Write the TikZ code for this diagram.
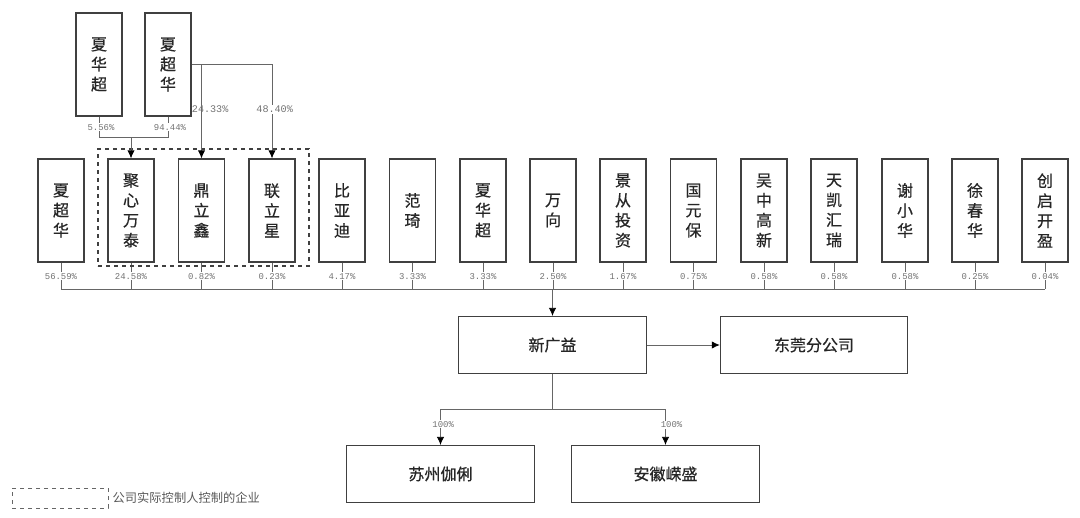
\documentclass[tikz,border=0pt]{standalone}
\usepackage{fontspec}
\setmainfont{Noto Sans CJK SC}
\newfontfamily\boxfont[FakeBold=0.6]{Noto Sans CJK SC}
\newfontfamily\pctfont{Liberation Mono}
\usetikzlibrary{arrows.meta,positioning}
\definecolor{boxline}{gray}{0.25}
\definecolor{linkline}{gray}{0.4}
\definecolor{pcttext}{gray}{0.45}
\tikzset{
    tallbox/.style={draw=boxline, line width=0.95pt, minimum width=34.5pt, minimum height=77.25pt, inner sep=0pt, align=center, font=\fontsize{12}{15}\selectfont\boxfont, text=black!85},
    widebox/.style={draw=boxline, line width=0.85pt, minimum width=140.5pt, minimum height=42.75pt, inner sep=0pt, font=\fontsize{12}{15}\selectfont\boxfont, text=black!85},
    link/.style={draw=linkline, line width=0.6pt},
    arrowlink/.style={link, -{Latex[length=6pt,width=5.5pt,color=black]}},
    pct/.style={font=\fontsize{6.7}{8}\selectfont\pctfont, text=pcttext, fill=white, inner sep=0.8pt},
    bigpct/.style={pct, font=\fontsize{7.6}{9}\selectfont\pctfont},
}
\begin{document}
\begin{tikzpicture}[x=0.75pt, y=-0.75pt]
            \useasboundingbox (0,0) rectangle (1080,517);

            % Define the macro.
            % 1st argument: Node name of the shareholder.
            % 2nd argument: X position of the box centre.
            % 3rd argument: Text of the box, one character per line.
            % 4th argument: Share placed below this box.
            \newcommand{\holderBox}[4]{
                \node[tallbox] (#1) at (#2,210.5) {#3};
                \draw[link] (#1.south) -- node[pct, pos=0.52] {#4} (#1.south |- busLeft);
            }

            \coordinate (busLeft) at (61,289);
            \coordinate (busRight) at (1045,289);
            \draw[link] (busLeft) -- (busRight);

            % SHAREHOLDERS
            \holderBox{xiaChaoHua}{61}{夏\\超\\华}{56.59\%}
            \holderBox{juXin}{131}{聚\\心\\万\\泰}{24.58\%}
            \holderBox{dingLiXin}{201.5}{鼎\\立\\鑫}{0.82\%}
            \holderBox{lianLiXing}{272}{联\\立\\星}{0.23\%}
            \holderBox{byd}{342}{比\\亚\\迪}{4.17\%}
            \holderBox{fanQi}{412.5}{范\\琦}{3.33\%}
            \holderBox{xiaHuaChao}{483}{夏\\华\\超}{3.33\%}
            \holderBox{wanXiang}{553}{万\\向}{2.50\%}
            \holderBox{jingCong}{623}{景\\从\\投\\资}{1.67\%}
            \holderBox{guoYuan}{693.5}{国\\元\\保}{0.75\%}
            \holderBox{wuZhong}{764}{吴\\中\\高\\新}{0.58\%}
            \holderBox{tianKai}{834}{天\\凯\\汇\\瑞}{0.58\%}
            \holderBox{xieXiaoHua}{905}{谢\\小\\华}{0.58\%}
            \holderBox{xuChunHua}{975}{徐\\春\\华}{0.25\%}
            \holderBox{chuangQi}{1045}{创\\启\\开\\盈}{0.04\%}

            % CONTROLLED GROUP
            \node[draw=boxline, dashed, line width=0.85pt, minimum width=158.25pt, minimum height=87.75pt, inner sep=0pt] (groupBox) at (203.5,207.5) {};

            % TOP OWNERS
            \node[tallbox] (topHuaChao) at (99,64.5) {夏\\华\\超};
            \node[tallbox] (topChaoHua) at (168,64.5) {夏\\超\\华};
            \coordinate (topJoin) at (131,137);
            \draw[link] (topHuaChao.south) -- node[pct, pos=0.52, xshift=1.5pt] {5.56\%} (topHuaChao.south |- topJoin) -- (topJoin);
            \draw[link] (topChaoHua.south) -- node[pct, pos=0.52, xshift=1.5pt] {94.44\%} (topChaoHua.south |- topJoin) -- (topJoin);
            \draw[arrowlink] (topJoin) -- (juXin.north);
            \draw[arrowlink] (topChaoHua.east) -| node[bigpct, pos=0.74, xshift=6.5pt, fill=none] {24.33\%} (dingLiXin.north);
            \draw[arrowlink] (topChaoHua.east) -| node[bigpct, pos=0.74, xshift=2pt] {48.40\%} (lianLiXing.north);

            % COMPANY
            \node[widebox] (xinGuangYi) at (552.5,345) {新广益};
            \node[widebox] (dongGuan) at (814,345) {东莞分公司};
            \node[widebox] (suZhou) at (440.5,474) {苏州伽俐};
            \node[widebox] (anHui) at (665.5,474) {安徽嵘盛};
            \coordinate (splitJoin) at (552.5,409);
            \draw[arrowlink] (xinGuangYi.north |- busLeft) -- (xinGuangYi.north);
            \draw[arrowlink] (xinGuangYi) -- (dongGuan);
            \draw[link] (xinGuangYi.south) -- (splitJoin);
            \draw[arrowlink] (splitJoin) -| node[pct, pos=0.71, xshift=2pt] {100\%} (suZhou.north);
            \draw[arrowlink] (splitJoin) -| node[pct, pos=0.72, xshift=4.5pt] {100\%} (anHui.north);

            % LEGEND
            \node[draw=linkline, dashed, line width=0.6pt, minimum width=72pt, minimum height=15pt, inner sep=0pt] (legendBox) at (60,498) {};
            \node[right=3pt of legendBox, inner sep=0pt, font=\fontsize{9.2}{11}\selectfont, text=black!65] (legendText) {公司实际控制人控制的企业};

        \end{tikzpicture}
\end{document}
